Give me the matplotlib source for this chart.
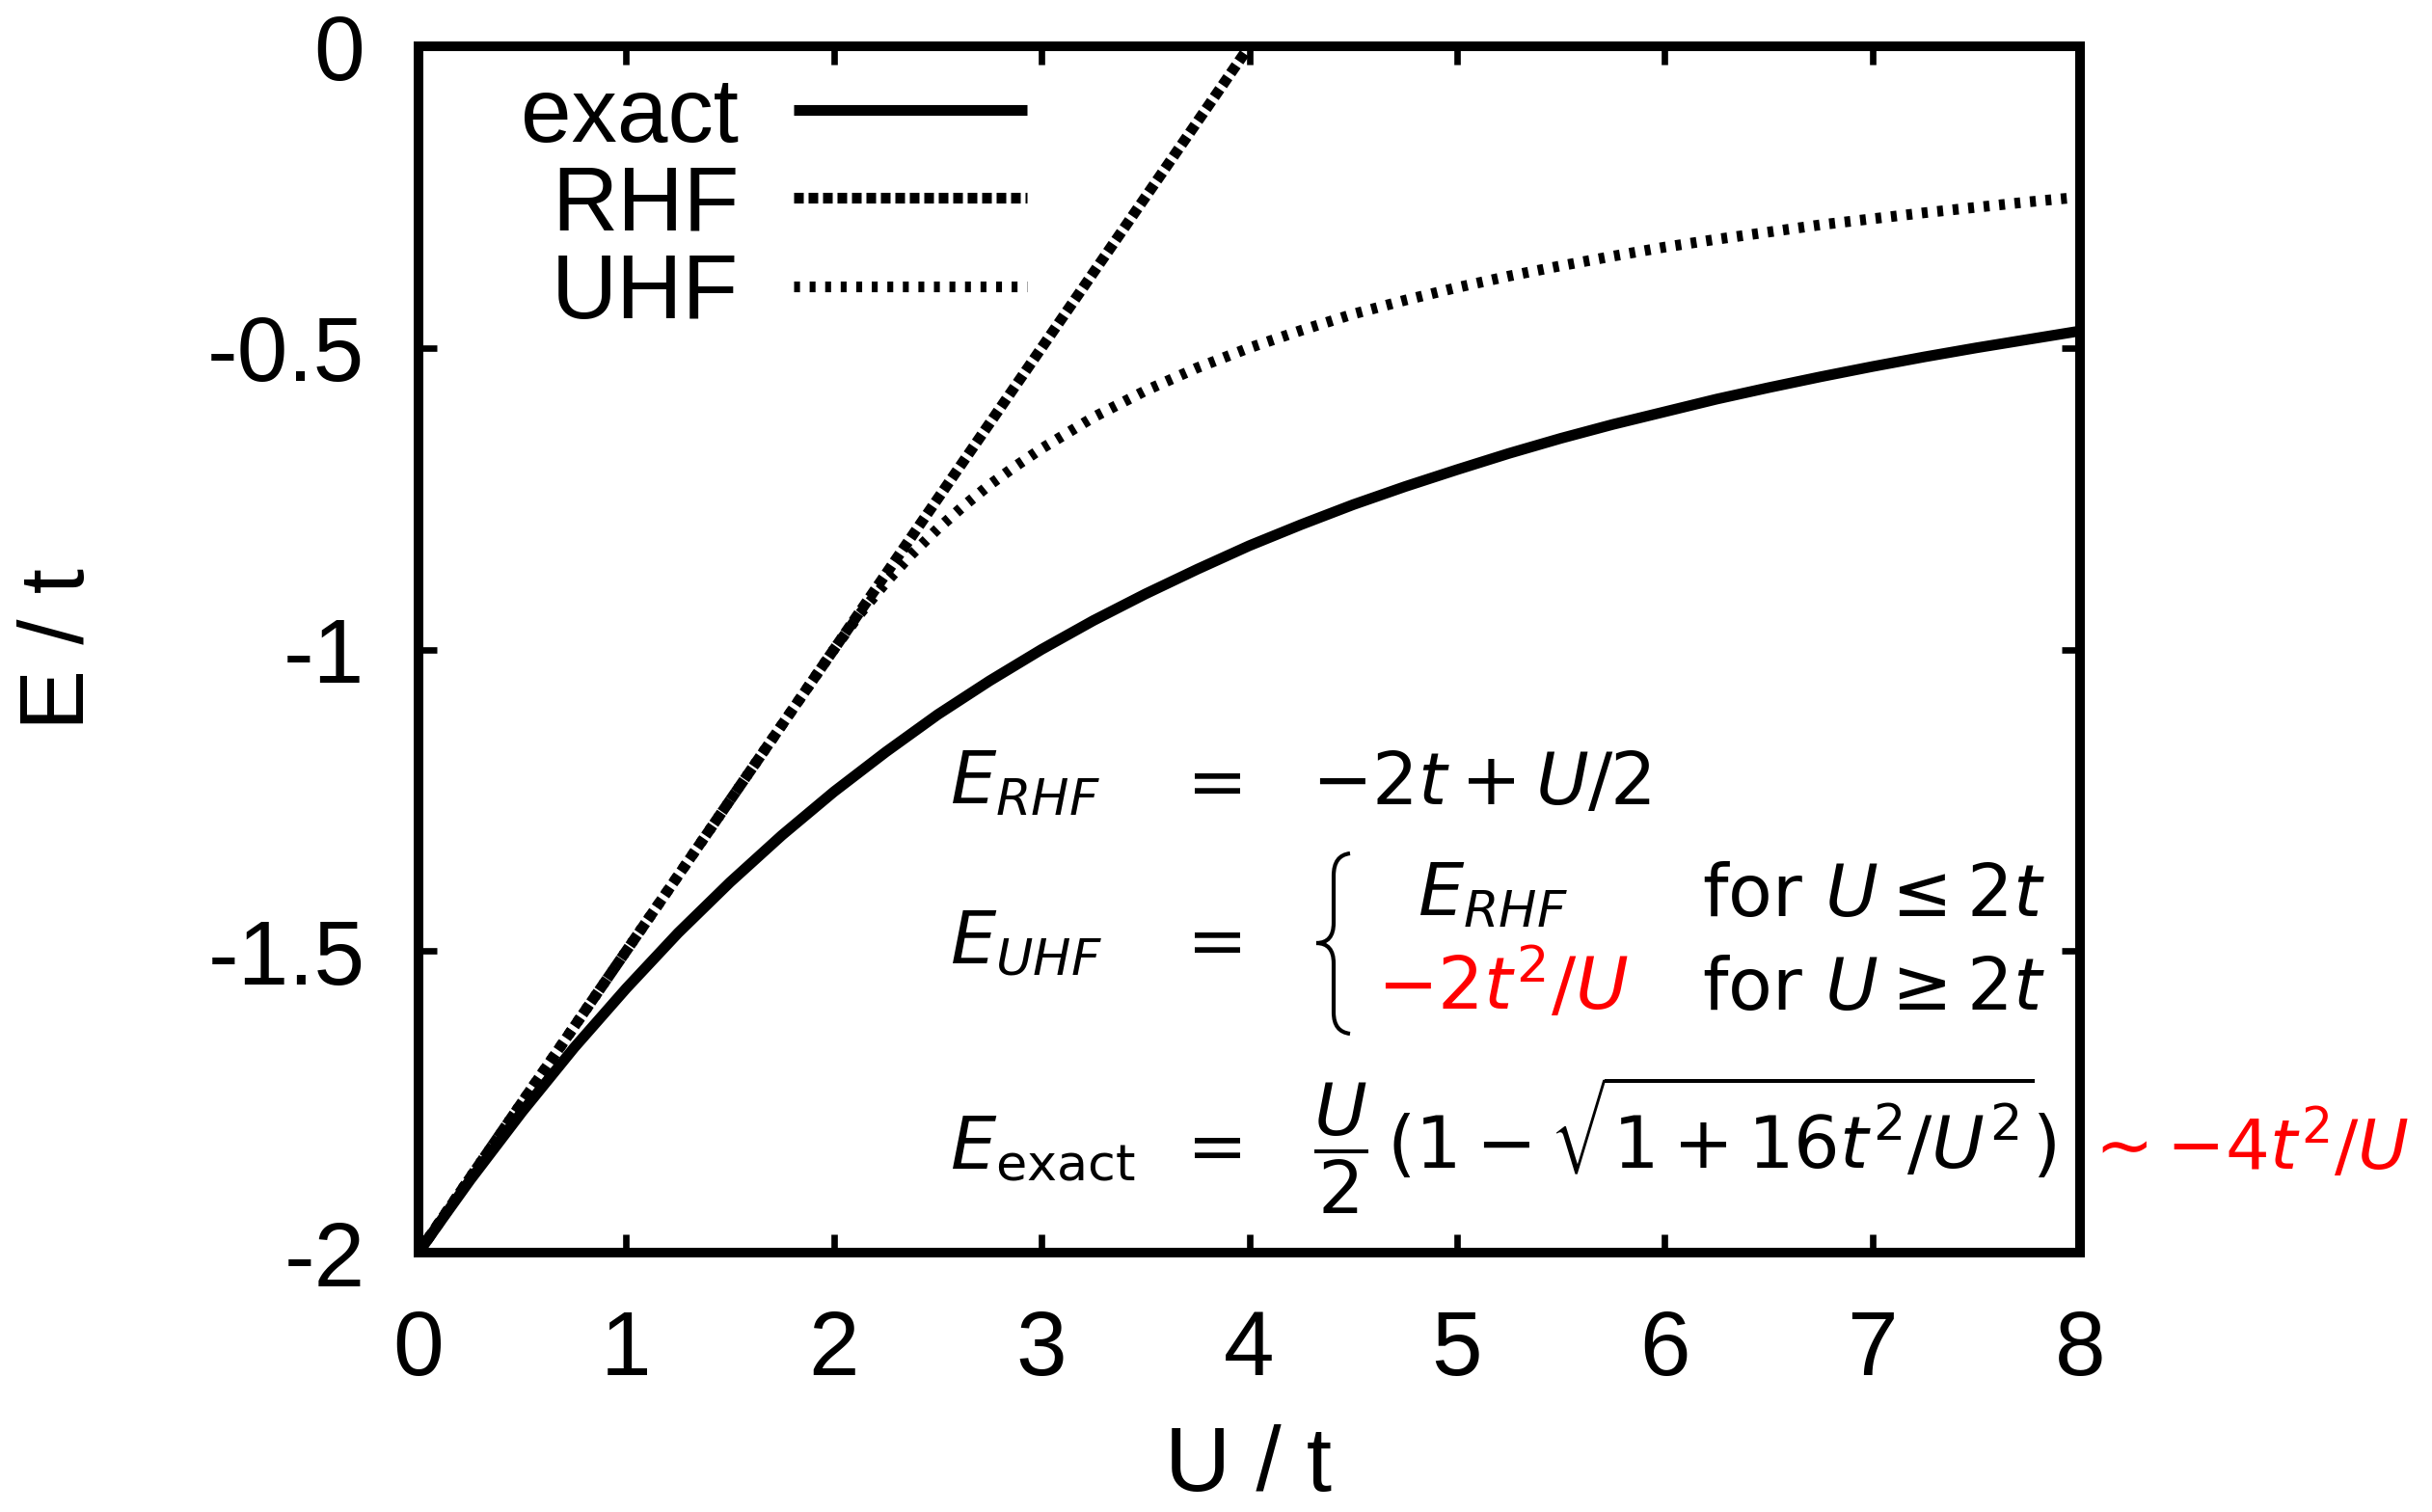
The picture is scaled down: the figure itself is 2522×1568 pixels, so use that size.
import matplotlib
matplotlib.use('Agg')
import matplotlib.pyplot as plt
from matplotlib.path import Path
from matplotlib.patches import PathPatch

plt.rcParams['font.family'] = ['Liberation Sans', 'DejaVu Sans']
plt.rcParams['mathtext.fontset'] = 'dejavusans'
plt.rcParams['axes.unicode_minus'] = False

# values
u_exact = [0, 0.125, 0.25, 0.5, 0.75, 1, 1.25, 1.5, 1.75, 2, 2.25, 2.5, 2.75,
           3, 3.25, 3.5, 3.75, 4, 4.25, 4.5, 4.75, 5, 5.25, 5.5, 5.75, 6,
           6.25, 6.5, 6.75, 7, 7.25, 7.5, 7.75, 8]
e_exact = [-2.0, -1.939, -1.879, -1.766, -1.660, -1.562, -1.470, -1.386,
           -1.308, -1.236, -1.170, -1.108, -1.052, -1.0, -0.952, -0.908,
           -0.867, -0.828, -0.793, -0.760, -0.730, -0.702, -0.675, -0.650,
           -0.627, -0.606, -0.585, -0.566, -0.548, -0.531, -0.515, -0.500,
           -0.486, -0.472]

u_rhf = [0, 4]
e_rhf = [-2.0, 0.0]

u_uhf = [0, 1, 2, 2.125, 2.25, 2.375, 2.5, 2.625, 2.75, 2.875, 3, 3.25, 3.5,
         3.75, 4, 4.25, 4.5, 4.75, 5, 5.25, 5.5, 5.75, 6, 6.25, 6.5, 6.75,
         7, 7.25, 7.5, 7.75, 8]
e_uhf = [-2.0, -1.5, -1.0, -0.941, -0.889, -0.842, -0.800, -0.762, -0.727,
         -0.696, -0.667, -0.615, -0.571, -0.533, -0.500, -0.471, -0.444,
         -0.421, -0.400, -0.381, -0.364, -0.348, -0.333, -0.320, -0.308,
         -0.296, -0.286, -0.276, -0.267, -0.258, -0.250]

xticks = [0, 1, 2, 3, 4, 5, 6, 7, 8]
yticks = [0, -0.5, -1, -1.5, -2]
ytick_labels = ['0', '-0.5', '-1', '-1.5', '-2']

W, H = 2522, 1568
fig = plt.figure(figsize=(W / 200, H / 200), dpi=200)
ax = fig.add_axes([434 / W, 1 - 1299 / H, 1723 / W, 1251 / H])


def fpos(x, y):
    # pixel position in the image -> figure fraction
    return x / W, 1 - y / H


lw = 4.0
ax.plot(u_exact, e_exact, color='black', lw=lw, label='exact',
        solid_capstyle='butt', solid_joinstyle='round')
ax.plot(u_rhf, e_rhf, color='black', lw=lw, label='RHF',
        linestyle=(0, (0.9, 0.45)), dash_capstyle='butt')
ax.plot(u_uhf, e_uhf, color='black', lw=lw, label='UHF',
        linestyle=(0, (0.55, 0.9)), dash_capstyle='butt')

ax.set_xlim(0, 8)
ax.set_ylim(-2, 0)
ax.set_xticks(xticks)
ax.set_xticklabels([str(v) for v in xticks])
ax.set_yticks(yticks)
ax.set_yticklabels(ytick_labels)
ax.tick_params(direction='in', length=7, width=2.4, labelsize=34,
               top=True, right=True)
ax.tick_params(axis='x', pad=21)
ax.tick_params(axis='y', pad=20)
for sp in ax.spines.values():
    sp.set_linewidth(3.6)

fig.text(*fpos(1295, 1546), 'U / t', fontsize=34, ha='center', va='baseline')
fig.text(*fpos(62, 673), 'E / t', fontsize=34, rotation=90,
         ha='center', va='center')

ax.legend(loc='center right', bbox_to_anchor=(0.366, 0.8673), fontsize=34,
          markerfirst=False, frameon=False, handlelength=2.56,
          handletextpad=0.6, labelspacing=0.03, borderpad=0, borderaxespad=0)

# formula block
fs = 27
red = '#ff0000'
t = dict(fontsize=fs, va='baseline')
fig.text(*fpos(985, 834), r'$E_{RHF}$', ha='left', **t)
fig.text(*fpos(1252, 834), r'$=$', ha='center', **t)
fig.text(*fpos(1360, 834), r'$-2t+U/2$', ha='left', **t)

fig.text(*fpos(985, 999), r'$E_{UHF}$', ha='left', **t)
fig.text(*fpos(1252, 999), r'$=$', ha='center', **t)
fig.text(*fpos(1470, 950), r'$E_{RHF}$', ha='left', **t)
fig.text(*fpos(1765, 950), r'$\mathrm{for}\ U \leq 2t$', ha='left', **t)
fig.text(*fpos(1428, 1047), r'$-2t^2/U$', ha='left', color=red, **t)
fig.text(*fpos(1765, 1047), r'$\mathrm{for}\ U \geq 2t$', ha='left', **t)

fig.text(*fpos(985, 1212), r'$E_{\mathrm{exact}}$', ha='left', **t)
fig.text(*fpos(1252, 1212), r'$=$', ha='center', **t)
fig.text(*fpos(1362, 1212), r'$\dfrac{U}{2}\,(1-\sqrt{1+16t^2/U^2})$',
         ha='left', **t)
fig.text(*fpos(2158, 1214), r'$\sim{-4t^2/U}$', ha='left', color=red,
         fontsize=26, va='baseline')

# curly brace for the two cases
bx = [(1400, 885), (1383, 887), (1383, 908), (1383, 957), (1383, 978),
      (1365, 978), (1383, 978), (1383, 999), (1383, 1050), (1383, 1070),
      (1400, 1072)]
codes = [Path.MOVETO, Path.CURVE3, Path.CURVE3, Path.LINETO, Path.CURVE3,
         Path.CURVE3, Path.CURVE3, Path.CURVE3, Path.LINETO, Path.CURVE3,
         Path.CURVE3]
brace = Path([fpos(x, y) for x, y in bx], codes)
fig.add_artist(PathPatch(brace, transform=fig.transFigure, fill=False,
                         lw=1.5, color='black'))

fig.savefig('out.png', dpi=200)
